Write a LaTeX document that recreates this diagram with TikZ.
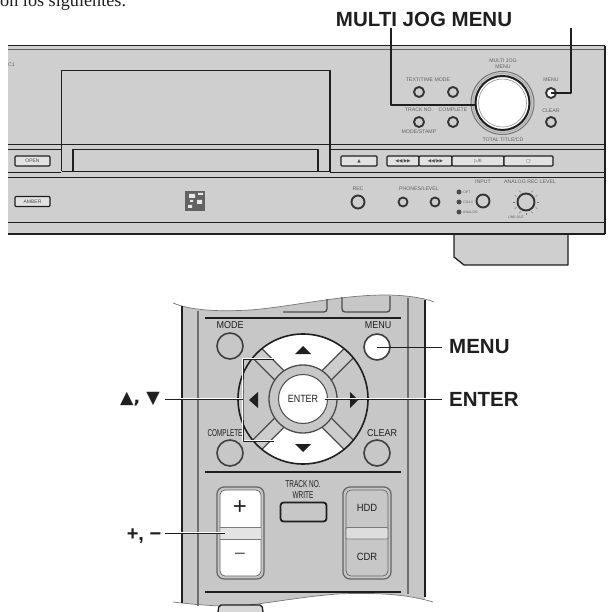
\documentclass[tikz,border=0pt]{standalone}
\usepackage{fontspec}
\setmainfont{Liberation Sans}
\newfontfamily\serifface{Liberation Serif}
\newfontfamily\symface{DejaVu Sans}
\usetikzlibrary{calc}
\definecolor{panelgray}{gray}{0.81}
\definecolor{remotegray}{gray}{0.78}
\definecolor{ink}{gray}{0.12}
\definecolor{ringgray}{gray}{0.45}
\tikzset{
  pline/.style={draw=ink,line width=1pt},
  callout/.style={draw=ink,line width=0.9pt},
  calllabel/.style={font=\bfseries\fontsize{20.5}{21}\selectfont,text=ink,inner sep=0pt,anchor=west},
  knob/.style={circle,draw=ink!90,line width=1.9pt,fill=panelgray,inner sep=0pt},
  tiny/.style={font=\fontsize{5.2}{5.6}\selectfont,text=ink!70,inner sep=0pt,align=center},
  rtext/.style={font=\fontsize{10}{10.5}\selectfont,text=ink,inner sep=0pt,align=center,xscale=0.9},
  pbtn/.style={draw=ink,line width=1.2pt,rounded corners=1pt,fill=panelgray!60!white,inner sep=0pt,font=\symface\fontsize{4.5}{5}\selectfont,text=ink!80},
  rbtn/.style={circle,draw=ink!85,line width=1.6pt,fill=remotegray,inner sep=0pt,minimum size=26pt},
  tri/.style={fill=ink,draw=none}
}
\begin{document}
\begin{tikzpicture}[x=1pt,y=-1pt,line join=round]
\useasboundingbox (0,0) rectangle (609,612);
\fill[white] (0,0) rectangle (609,612);
\node[font=\serifface\fontsize{18.2}{18}\selectfont,anchor=base west,inner sep=0pt,text=ink] (intro) at (0,7) {on los siguientes.};
% --- stand
\draw[pline,fill=panelgray,line width=1.3pt] (454,234) -- (454,257) -- (464,265) -- (568,265) -- (568,234);
% --- panel
\fill[panelgray] (8,46) rectangle (605,234);
\draw[line width=1.6pt,draw=ink] (8,45.5) -- (605,45.5);
\draw[line width=.7pt,draw=ink!70] (8,49) -- (605,49);
\draw[line width=1.2pt,draw=ink] (605,46) -- (605,234);
\draw[pline] (8,144.5) -- (605,144.5);
\draw[pline] (8,149.5) -- (61,149.5) (330,149.5) -- (605,149.5);
\draw[pline] (8,173) -- (61,173);
\draw[pline] (330,173) -- (605,173);
\draw[pline] (8,177.5) -- (605,177.5);
\draw[pline] (8,222.5) -- (605,222.5);
\draw[line width=2.2pt,draw=ink] (8,234) -- (605,234);
% display window and tray
\draw[pline,line width=1.2pt] (61.5,171.5) -- (61.5,70.5) -- (330,70.5) -- (330,172);
\draw[pline,line width=1.2pt] (61.5,171.5) -- (330,171.5);
\draw[pline,line width=1.2pt] (73,171) -- (73,149.5) -- (318,149.5) -- (318,171);
\node[tiny,anchor=west] (cd) at (8,64.5) {C1};
% left buttons
\node[pbtn,minimum width=35pt,minimum height=10pt,font=\fontsize{5}{5}\selectfont] (open) at (32.5,161) {OPEN};
\node[pbtn,minimum width=35pt,minimum height=10pt,font=\fontsize{5}{5}\selectfont] (amber) at (32.5,201.5) {AMBER};
\fill[ink!70] (185,191) rectangle (205,211);
\fill[panelgray!50!white] (189,194) rectangle (195,198) (197,200) rectangle (202,204) (188,205) rectangle (192,208) (198,193) rectangle (203,195) (190,200) rectangle (193,202);
% transport
\node[pbtn,minimum width=36pt,minimum height=10pt] (eject) at (359,161) {▲};
\node[pbtn,minimum width=32pt,minimum height=10pt] (t1) at (403,161) {◀◀/▶▶};
\node[pbtn,minimum width=33pt,minimum height=10pt] (t2) at (435.5,161) {◀◀/▶▶};
\node[pbtn,minimum width=52pt,minimum height=10pt] (t3) at (478,161) {▷/II};
\node[pbtn,minimum width=49pt,minimum height=10pt] (t4) at (528.5,161) {□};
% upper knobs
\node[knob,minimum size=10pt] (k1) at (419,92) {};
\node[knob,minimum size=10pt] (k2) at (453,92) {};
\node[knob,minimum size=10pt] (k3) at (419,122) {};
\node[knob,minimum size=10pt] (k4) at (453,122) {};
\node[knob,minimum size=10pt,fill=white] (menuk) at (551,93) {};
\node[knob,minimum size=10pt] (cleark) at (551,122) {};
\node[tiny] (l1) at (428,80) {TEXT/TIME MODE};
\node[tiny] (l2) at (419,110) {TRACK NO.};
\node[tiny] (l3) at (453,110) {COMPLETE};
\node[tiny] (l4) at (419,132) {MODE/STAMP};
\node[tiny] (l5) at (551,80) {MENU};
\node[tiny] (l6) at (551,111) {CLEAR};
\node[tiny] (l7) at (503,64) {MULTI JOG\\ MENU};
\node[tiny] (l8) at (503,139.5) {TOTAL TITLE/CD};
% dial
\draw[ringgray,line width=1pt] (502.5,103) circle (31.5);
\draw[ringgray!60,line width=1pt] (502.5,103) circle (29.5);
\node[circle,draw=ink,line width=2pt,fill=white,minimum size=54pt,inner sep=0pt] (dial) at (502.5,103) {};
\draw[ringgray!70,line width=.7pt] (502.5,103) circle (24);
% lower controls
\node[knob,minimum size=13pt] (rec) at (358,202) {};
\node[knob,minimum size=9pt] (s1) at (403,202) {};
\node[knob,minimum size=9pt] (s2) at (435,202) {};
\node[knob,minimum size=13pt] (inp) at (483,201) {};
\node[circle,fill=ink!80,minimum size=5pt,inner sep=0pt] (led1) at (459,192) {};
\node[circle,fill=ink!80,minimum size=5pt,inner sep=0pt] (led2) at (459,202) {};
\node[circle,fill=ink!80,minimum size=5pt,inner sep=0pt] (led3) at (459,212) {};
\node[tiny,anchor=west,font=\fontsize{3.5}{4}\selectfont] (ledt1) at (463,192) {OPT};
\node[tiny,anchor=west,font=\fontsize{3.5}{4}\selectfont] (ledt2) at (463,202) {COAX};
\node[tiny,anchor=west,font=\fontsize{3.5}{4}\selectfont] (ledt3) at (463,212) {ANALOG};
\node[knob,minimum size=17pt] (lvl) at (526,202) {};
\foreach \a in {-60,-30,...,240}{\draw[ink!60,line width=.6pt] ($(lvl.center)+(\a:11)$) -- ($(lvl.center)+(\a:13)$);}
\node[tiny,font=\fontsize{3.5}{4}\selectfont] (l13) at (516,217) {LINE OUT};
\node[tiny] (l9) at (358,189) {REC};
\node[tiny] (l10) at (419,189) {PHONES/LEVEL};
\node[tiny] (l11) at (483,182) {INPUT};
\node[tiny] (l12) at (530,182) {ANALOG REC LEVEL};
% --- panel callouts
\node[calllabel,anchor=center] (mjlabel) at (424,19) {MULTI JOG MENU};
\coordinate (menutop) at (571,28);
\coordinate (jogtop) at (391,28);
\draw[callout,line width=1.3pt] (jogtop) |- (dial.west|-0,105);
\draw[callout,line width=1.3pt] (menutop) |- (menuk.center);
% --- remote body
\begin{scope}
\clip (182,280) rectangle (425,612);
\path[fill=remotegray] (173,303) .. controls (190,310) and (215,312) .. (250,310)
  .. controls (290,307) and (340,295) .. (385,295) .. controls (405,295) and (425,298) .. (434,302)
  -- (433,602) .. controls (410,595) and (380,592) .. (337,594)
  .. controls (300,597) and (270,603) .. (240,606) .. controls (220,607) and (190,604) .. (173,602) -- cycle;
\end{scope}
\draw[ink!60,line width=.7pt] (173,303) .. controls (190,310) and (215,312) .. (250,310)
  .. controls (290,307) and (340,295) .. (385,295) .. controls (405,295) and (425,298) .. (434,302);
\draw[ink!60,line width=.7pt] (173,602) .. controls (190,604) and (220,607) .. (240,606)
  .. controls (270,603) and (300,597) .. (337,594) .. controls (380,592) and (410,595) .. (433,602);
\draw[ink,line width=1.3pt] (182,306) -- (182,603);
\draw[ink!65,line width=1.2pt] (198,311) -- (198,606);
\draw[ink!65,line width=1.2pt] (408,298) -- (408,594);
\draw[ink,line width=1.3pt] (425,300) -- (425,597);
\draw[ink,line width=1.3pt] (205,318) -- (401,318);
\draw[ink,line width=1.3pt] (205,472) -- (401,472);
\draw[ink,line width=1.3pt] (205,592) -- (401,592);
% top partial keys
\draw[ink!80,line width=1.3pt,rounded corners=3pt] (327,299) -- (327,312) -- (283,312);
\draw[ink!80,line width=1.3pt,rounded corners=3pt] (342,297) -- (342,312) -- (390,312) -- (390,296);
\draw[ink,line width=1.3pt,rounded corners=2pt,fill=remotegray!70] (218,612) -- (219,605) -- (262,605) -- (263,612);
% round keys
\node[rbtn] (mode) at (230,346) {};
\node[rbtn,fill=white] (menub) at (377,347) {};
\node[rbtn] (complete) at (230,453) {};
\node[rbtn] (clear) at (377,453) {};
\node[rtext] (modet) at (230,325) {MODE};
\node[rtext] (menut) at (378,325) {MENU};
\node[rtext,xscale=.7] (compt) at (225,433) {COMPLETE};
\node[rtext] (cleart) at (382,433) {CLEAR};
% d-pad
\fill[white] (303,399) circle (65);
\fill[remotegray] (303,399) -- (257,353) arc (225:135:65) -- cycle;
\fill[remotegray] (303,399) -- (349,353) arc (-45:45:65) -- cycle;
\foreach \a in {45,135,225,315}{
  \begin{scope}[shift={(303,399)},rotate=\a]
    \fill[remotegray!90] (30,-6) rectangle (65,6);
    \draw[ink!80,line width=1.2pt] (30,-6.5) -- (64,-6.5) (30,6.5) -- (64,6.5);
  \end{scope}
}
\draw[ink,line width=1.6pt] (303,399) circle (65);
\node[circle,draw=ink!80,line width=1.3pt,fill=remotegray,minimum size=68pt,inner sep=0pt] (ring) at (303,399) {};
\node[circle,draw=ink!80,line width=1pt,fill=white,minimum size=49pt,inner sep=0pt,font=\fontsize{10.5}{10.5}\selectfont,text=ink] (enterb) at (303,399) {\scalebox{.85}[1]{ENTER}};
\fill[tri] (295,354) -- (311,354) -- (303,346) -- cycle;
\fill[tri] (295,444) -- (311,444) -- (303,452) -- cycle;
\fill[tri] (258,392) -- (258,408) -- (249,400) -- cycle;
\fill[tri] (350,392) -- (350,408) -- (358,400) -- cycle;
% + - key
\draw[ink!70,line width=1.2pt,rounded corners=7pt,fill=remotegray] (217,487) rectangle (264,579);
\draw[ink!70,line width=.7pt,rounded corners=5pt,fill=white] (220,490) rectangle (261,576);
\fill[remotegray!50!white] (220.5,528) rectangle (260.5,538.5);
\draw[ink!60,line width=.6pt] (220,527.5) -- (261,527.5) (220,539) -- (261,539);
\draw[ink!70,line width=1.2pt,rounded corners=7pt,fill=remotegray] (343,487) rectangle (391,579);
\draw[ink!70,line width=.7pt,rounded corners=5pt] (346,490) rectangle (388,576);
\draw[ink!60,line width=.8pt,rounded corners=1pt,fill=remotegray!60!white] (346,527.5) rectangle (388,539);
\node[font=\fontsize{24}{24}\selectfont,inner sep=0pt,text=ink] (plus) at (240,508) {+};
\node[font=\fontsize{20}{20}\selectfont,inner sep=0pt,text=ink!70] (minus) at (240,557) {−};
\node[rtext,font=\fontsize{10.5}{10.5}\selectfont,xscale=1] (hdd) at (367,508) {HDD};
\node[rtext,font=\fontsize{10.5}{10.5}\selectfont,xscale=1] (cdr) at (367,557) {CDR};
\node[draw=ink,line width=1.8pt,rounded corners=3pt,fill=remotegray,minimum width=46pt,minimum height=19pt,inner sep=0pt] (track) at (303.5,512) {};
\node[rtext,xscale=.72] (trackt) at (303,489.5) {TRACK NO.\\[1pt] WRITE};
% --- remote callouts
\coordinate (brtop) at (274,359);
\coordinate (brbot) at (274,441);
\coordinate (brmid) at (243,399);
\draw[white,line width=2.6pt] (brtop) -| (brmid) |- (brbot);
\draw[callout] (brtop) -| (brmid) |- (brbot);
\node[calllabel,font=\symface\bfseries\fontsize{17.5}{18}\selectfont] (arrows) at (120,399) {▲, ▼};
\node[calllabel,anchor=center,font=\bfseries\fontsize{20}{20}\selectfont] (pmlabel) at (144,536) {+, −};
\node[calllabel] (menulabel) at (449,347) {MENU};
\node[calllabel] (enterlabel) at (449,399) {ENTER};
\coordinate (arrowend) at (165,399);
\coordinate (pmend) at (165,533);
\coordinate (pmkey) at (225,533);
\coordinate (enterstart) at (325,399);
\coordinate (menuend) at (442,347);
\coordinate (enterend) at (442,399);
\draw[white,line width=2.4pt] (arrowend) -- (brmid);
\draw[callout] (arrowend) -- (brmid);
\draw[white,line width=2.4pt] (pmend) -- (pmkey);
\draw[callout] (pmend) -- (pmkey);
\draw[white,line width=2.4pt] (enterstart) -- (enterend);
\draw[callout] (enterstart) -- (enterend);
\draw[callout] (menub.center) -- (menuend);
\end{tikzpicture}
\end{document}
